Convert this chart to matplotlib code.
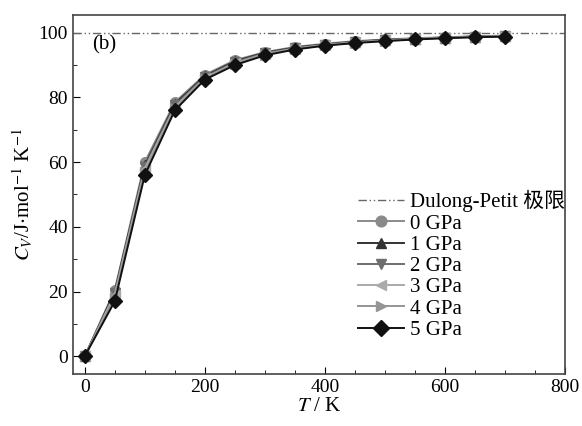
import numpy as np
import matplotlib.pyplot as plt
from matplotlib.ticker import MultipleLocator

plt.rcParams['font.family'] = ['Liberation Serif', 'Noto Sans CJK SC']
plt.rcParams['mathtext.fontset'] = 'stix'

# temperature (K)
T = [0, 50, 100, 150, 200, 250, 300, 350, 400, 450, 500, 550, 600, 650, 700]

# heat capacity Cv (J/mol/K) at each pressure
cv_0 = [0, 20.5, 60.0, 78.5, 87.0, 91.5, 94.0, 95.6, 96.6, 97.4, 97.9, 98.3, 98.6, 98.9, 99.1]
cv_1 = [0, 20.0, 59.0, 78.0, 86.6, 91.2, 93.8, 95.4, 96.4, 97.2, 97.8, 98.2, 98.5, 98.8, 99.0]
cv_2 = [0, 19.5, 58.5, 77.5, 86.3, 90.9, 93.6, 95.2, 96.3, 97.1, 97.7, 98.1, 98.5, 98.8, 99.0]
cv_3 = [0, 19.0, 58.0, 77.0, 86.0, 90.6, 93.4, 95.1, 96.2, 97.0, 97.6, 98.1, 98.4, 98.7, 98.9]
cv_4 = [0, 18.0, 57.0, 76.5, 85.8, 90.4, 93.2, 95.0, 96.1, 96.9, 97.5, 98.0, 98.4, 98.7, 98.9]
cv_5 = [0, 17.0, 56.0, 76.0, 85.5, 90.0, 93.0, 94.8, 96.0, 96.8, 97.4, 97.9, 98.3, 98.6, 98.8]

series = [cv_0, cv_1, cv_2, cv_3, cv_4, cv_5]
labels = ['0 GPa', '1 GPa', '2 GPa', '3 GPa', '4 GPa', '5 GPa']
markers = ['o', '^', 'v', '<', '>', 'D']
colors = ['#8a8a8a', '#333333', '#6e6e6e', '#aaaaaa', '#959595', '#111111']

fig = plt.figure(figsize=(5.82, 4.26), dpi=100)
ax = fig.add_axes([0.125, 0.122, 0.846, 0.843])

ax.axhline(100, color='#666666', lw=1.0, linestyle=(0, (6, 2, 1, 2, 1, 2)),
           label='Dulong-Petit 极限')
for y, lab, m, c in zip(series, labels, markers, colors):
    ax.plot(T, y, marker=m, color=c, lw=1.4, markersize=7, label=lab)

ax.set_xlim(-20, 800)
ax.set_ylim(-5.5, 105.5)
ax.xaxis.set_major_locator(MultipleLocator(200))
ax.xaxis.set_minor_locator(MultipleLocator(50))
ax.yaxis.set_major_locator(MultipleLocator(20))
ax.yaxis.set_minor_locator(MultipleLocator(10))
ax.tick_params(which='both', direction='in', labelsize=14)
ax.tick_params(which='major', length=5)
ax.tick_params(which='minor', length=3)
for s in ax.spines.values():
    s.set_color('#444444')
    s.set_linewidth(1.2)

ax.set_xlabel(r'$T$ / K', fontsize=15, labelpad=1)
ax.set_ylabel(r'$C_V$/J$\cdot$mol$^{-1}$ K$^{-1}$', fontsize=15, labelpad=2)
ax.text(0.04, 0.905, '(b)', transform=ax.transAxes, fontsize=15)

ax.legend(loc='lower right', bbox_to_anchor=(1.025, 0.06), frameon=False,
          fontsize=15, handlelength=2.2, handletextpad=0.3, labelspacing=0.08,
          borderaxespad=0.2, markerscale=1.1)

plt.savefig('out.png', dpi=100)
